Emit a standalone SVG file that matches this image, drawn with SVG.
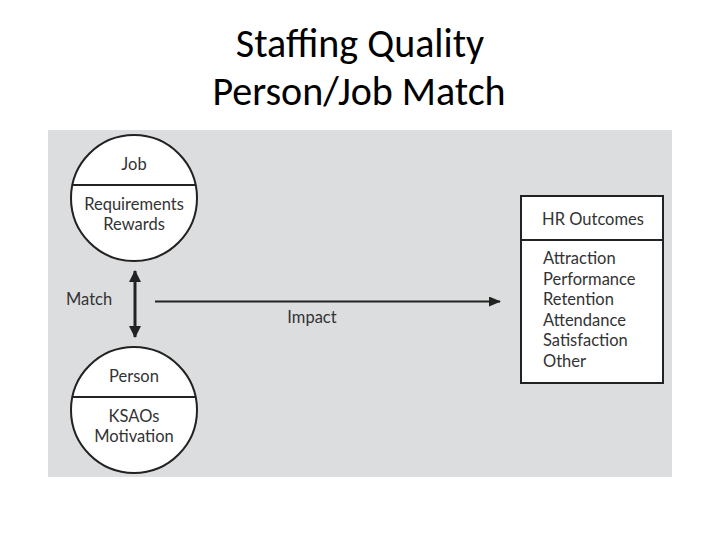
<svg xmlns="http://www.w3.org/2000/svg" width="720" height="540" viewBox="0 0 720 540">
<style>
.title{font-family:Carlito,"Liberation Sans","Open Sans",sans-serif;font-size:40px;fill:#000;text-anchor:middle}
.t{font-family:Lato,"Open Sans","Liberation Sans",sans-serif;font-size:16.5px;fill:#333}
.c{text-anchor:middle}
.shape{fill:#fff;stroke:#222;stroke-width:2}
.div{stroke:#222;stroke-width:2}
</style>
<defs>
<marker id="ah" markerWidth="12" markerHeight="10" refX="11" refY="5" orient="auto" markerUnits="userSpaceOnUse">
<path d="M0,0 L12,5 L0,10 Z" fill="#222"/>
</marker>
<marker id="ahs" markerWidth="12" markerHeight="12" refX="11" refY="6" orient="auto-start-reverse" markerUnits="userSpaceOnUse">
<path d="M0,0 L12,6 L0,12 Z" fill="#222"/>
</marker>
</defs>
<rect width="720" height="540" fill="#fff"/>
<text class="title" x="360" y="57">Staffing Quality</text>
<text class="title" x="359" y="105">Person/Job Match</text>
<rect x="48" y="130" width="624" height="347" fill="#dcdddf"/>
<g id="connectors">
<line x1="135" y1="271" x2="135" y2="337" stroke="#222" stroke-width="3" marker-start="url(#ahs)" marker-end="url(#ahs)"/>
<line x1="155" y1="301.5" x2="500" y2="301.5" stroke="#222" stroke-width="2" marker-end="url(#ah)"/>
<text class="t" x="66" y="305">Match</text>
<text class="t c" x="312" y="323">Impact</text>
</g>
<g id="job">
<circle class="shape" cx="134" cy="198" r="63"/>
<line class="div" x1="72" y1="185" x2="196" y2="185"/>
<text class="t c" x="134" y="170">Job</text>
<text class="t c" x="134" y="210">Requirements</text>
<text class="t c" x="134" y="230">Rewards</text>
</g>
<g id="person">
<circle class="shape" cx="134" cy="410" r="63"/>
<line class="div" x1="72" y1="397" x2="196" y2="397"/>
<text class="t c" x="134" y="382">Person</text>
<text class="t c" x="134" y="422">KSAOs</text>
<text class="t c" x="134" y="442">Motivation</text>
</g>
<g id="hr-outcomes">
<rect class="shape" x="521" y="196" width="142" height="187"/>
<line class="div" x1="521" y1="240" x2="663" y2="240"/>
<text class="t c" x="593" y="225">HR Outcomes</text>
<text class="t" x="543" y="264">Attraction</text>
<text class="t" x="543" y="285">Performance</text>
<text class="t" x="543" y="305">Retention</text>
<text class="t" x="543" y="326">Attendance</text>
<text class="t" x="543" y="346">Satisfaction</text>
<text class="t" x="543" y="367">Other</text>
</g>
</svg>
